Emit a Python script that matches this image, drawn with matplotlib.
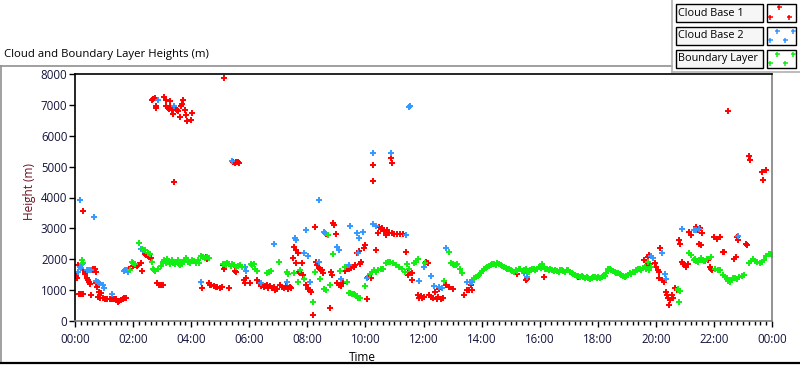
import matplotlib.pyplot as plt
from matplotlib.lines import Line2D
from matplotlib.patches import Rectangle
from matplotlib.ticker import MultipleLocator, FuncFormatter

plt.rcParams['font.family'] = ['Open Sans', 'DejaVu Sans']

# (hour of day, height in m)
cloud_base_1 = [
    (0.0, 1490), (0.03, 1450), (0.06, 1400), (0.09, 1810), (0.13, 860), (0.17, 860), (0.21, 860),
    (0.26, 870), (0.28, 3560), (0.29, 1650), (0.33, 1580), (0.36, 1520), (0.4, 1380), (0.44, 1330),
    (0.47, 1270), (0.51, 1200), (0.55, 840), (0.59, 1650), (0.63, 1700), (0.68, 1680), (0.71, 1600),
    (0.73, 1220), (0.76, 1110), (0.78, 770), (0.82, 950), (0.87, 760), (0.9, 920), (0.96, 730),
    (1.02, 720), (1.1, 710), (1.19, 712), (1.27, 700), (1.35, 700), (1.42, 700), (1.47, 626),
    (1.52, 660), (1.59, 680), (1.65, 720), (1.7, 740), (1.76, 733), (1.85, 1670), (2.0, 1780),
    (2.06, 1800), (2.12, 1780), (2.17, 1810), (2.26, 1870), (2.3, 1630), (2.4, 2170), (2.45, 2130),
    (2.5, 2110), (2.55, 2080), (2.6, 2030), (2.65, 7150), (2.7, 7200), (2.76, 7220), (2.79, 6950),
    (2.8, 6900), (2.82, 1240), (2.88, 1180), (2.95, 1160), (3.03, 1150), (3.08, 7250), (3.12, 7160),
    (3.15, 6950), (3.2, 6890), (3.24, 6860), (3.26, 7130), (3.28, 6950), (3.33, 6820), (3.36, 6710),
    (3.4, 4490), (3.42, 4500), (3.45, 6890), (3.5, 6840), (3.55, 6800), (3.6, 6620), (3.66, 6950),
    (3.7, 7030), (3.72, 7170), (3.8, 6840), (3.83, 6670), (3.87, 6480), (4.0, 6510), (4.02, 6730),
    (4.37, 1060), (4.5, 2060), (4.55, 2020), (4.6, 1220), (4.65, 1180), (4.7, 1150), (4.78, 1130),
    (4.85, 1100), (4.9, 1110), (4.98, 1080), (5.05, 1090), (5.1, 1810), (5.13, 1700), (5.14, 7860),
    (5.3, 1070), (5.45, 5160), (5.5, 5130), (5.52, 1630), (5.55, 5150), (5.56, 1580), (5.6, 5140),
    (5.64, 5130), (5.83, 1320), (5.85, 1220), (5.88, 1400), (6.03, 1220), (6.28, 1330), (6.35, 1240),
    (6.4, 1120), (6.45, 1160), (6.5, 1100), (6.55, 1130), (6.6, 1150), (6.65, 1080), (6.72, 1120),
    (6.78, 1060), (6.85, 1100), (6.9, 1000), (6.95, 1040), (7.05, 1160), (7.12, 1100), (7.2, 1080),
    (7.28, 1120), (7.35, 1050), (7.4, 1100), (7.45, 1060), (7.52, 2030), (7.55, 2400), (7.6, 2300),
    (7.62, 1880), (7.67, 2190), (7.7, 1600), (7.75, 1540), (7.8, 1890), (7.84, 1500), (7.97, 1160),
    (8.02, 1050), (8.08, 1000), (8.13, 950), (8.2, 195), (8.27, 3030), (8.3, 1920), (8.35, 1800),
    (8.4, 1720), (8.45, 1680), (8.5, 1650), (8.55, 1550), (8.6, 2840), (8.65, 2820), (8.77, 410),
    (8.8, 1600), (8.85, 1500), (8.9, 3160), (8.93, 3110), (8.97, 2820), (9.02, 1240), (9.1, 1180),
    (9.17, 1140), (9.22, 1220), (9.3, 1630), (9.38, 1670), (9.45, 1700), (9.52, 1720), (9.6, 1750),
    (9.65, 1800), (9.72, 2190), (9.77, 2280), (9.8, 1850), (9.85, 1900), (9.94, 2350), (10.0, 2460),
    (10.06, 700), (10.1, 1430), (10.18, 1380), (10.26, 5050), (10.27, 4530), (10.35, 2300),
    (10.42, 2850), (10.46, 3050), (10.52, 2980), (10.57, 3000), (10.63, 2900), (10.7, 2780),
    (10.75, 2950), (10.82, 2850), (10.88, 5280), (10.9, 5120), (10.92, 2840), (11.0, 2820),
    (11.1, 2820), (11.2, 2820), (11.3, 2820), (11.4, 2240), (11.45, 1600), (11.48, 1490), (11.6, 1540),
    (11.62, 1330), (11.8, 840), (11.85, 760), (11.9, 800), (11.95, 730), (12.02, 780), (12.07, 1920),
    (12.15, 1870), (12.2, 840), (12.27, 780), (12.33, 750), (12.38, 950), (12.45, 720), (12.5, 790),
    (12.55, 1025), (12.6, 700), (12.67, 740), (12.77, 1165), (12.88, 1100), (13.0, 1025), (13.4, 840),
    (13.5, 1000), (13.57, 1010), (13.63, 1165), (13.66, 1000), (15.22, 1520), (15.53, 1330),
    (15.57, 1360), (16.14, 1420), (17.33, 1420), (19.6, 1970), (19.65, 1900), (19.7, 1810),
    (19.72, 2080), (19.76, 2140), (19.8, 1850), (19.96, 1870), (20.0, 1760), (20.07, 1650),
    (20.1, 1600), (20.12, 1380), (20.16, 2350), (20.2, 1320), (20.28, 1270), (20.35, 950), (20.4, 840),
    (20.43, 760), (20.47, 520), (20.5, 680), (20.55, 840), (20.6, 760), (20.65, 1060), (20.72, 1000),
    (20.8, 2620), (20.84, 2510), (20.9, 1920), (20.95, 1850), (21.0, 1800), (21.05, 1760),
    (21.1, 1850), (21.15, 2890), (21.2, 2780), (21.35, 1970), (21.4, 3050), (21.45, 2960),
    (21.5, 2510), (21.52, 3000), (21.55, 2460), (21.6, 2840), (21.8, 1970), (21.85, 1750),
    (21.9, 1680), (21.95, 1650), (22.0, 2710), (22.1, 2640), (22.2, 2710), (22.3, 2240), (22.35, 2220),
    (22.47, 6790), (22.7, 2000), (22.75, 2060), (22.8, 2730), (22.83, 2620), (23.1, 2490),
    (23.13, 2470), (23.22, 5330), (23.25, 5200), (23.66, 4840), (23.7, 4580), (23.78, 4900),
]

cloud_base_2 = [
    (0.12, 1600), (0.17, 3920), (0.18, 1760), (0.21, 1730), (0.23, 1845), (0.4, 1650), (0.47, 1650),
    (0.55, 1650), (0.67, 3360), (0.73, 1290), (0.79, 1270), (0.84, 1220), (0.96, 1165), (1.01, 1080),
    (1.29, 860), (1.68, 1620), (1.73, 1640), (1.78, 1650), (1.83, 1600), (2.28, 2330), (2.33, 2300),
    (2.87, 7160), (3.4, 6960), (4.35, 1250), (5.39, 5180), (5.85, 1760), (5.9, 1620), (6.42, 1240),
    (6.85, 2480), (7.29, 1270), (7.57, 2680), (7.6, 2630), (7.89, 2190), (7.97, 2950), (8.03, 2100),
    (8.08, 1270), (8.39, 3920), (8.4, 1920), (8.56, 2870), (8.6, 2840), (9.02, 2400), (9.08, 2300),
    (9.15, 1350), (9.42, 1810), (9.46, 3070), (9.71, 2840), (9.74, 2190), (9.77, 2700), (9.9, 2890),
    (10.06, 1400), (10.26, 5450), (10.27, 3150), (10.38, 3070), (10.88, 5450), (11.4, 2780),
    (11.5, 6920), (11.53, 6970), (11.85, 1300), (12.03, 1760), (12.26, 1460), (12.35, 1140),
    (12.55, 1090), (12.64, 1060), (12.77, 2380), (13.5, 1270), (13.6, 1270), (13.68, 1270),
    (15.45, 1540), (15.56, 1420), (19.85, 2110), (19.9, 2030), (20.2, 2190), (20.33, 1510),
    (20.36, 1360), (20.9, 2970), (21.3, 2960), (21.4, 2950), (21.5, 2970), (21.7, 1950), (22.83, 2760),
]

boundary_layer = [
    (0.25, 1975), (0.28, 1880), (1.88, 1640), (1.95, 1900), (2.0, 1880), (2.05, 1850), (2.22, 2515),
    (2.3, 2320), (2.37, 2300), (2.42, 2290), (2.5, 2200), (2.58, 2170), (2.66, 1920), (2.7, 1690),
    (2.73, 1650), (2.76, 1630), (2.85, 1700), (2.96, 1790), (3.02, 1900), (3.07, 1960), (3.12, 1880),
    (3.18, 2010), (3.22, 1930), (3.28, 1850), (3.33, 1960), (3.38, 1880), (3.43, 1830), (3.48, 1900),
    (3.53, 1960), (3.58, 1860), (3.63, 1800), (3.68, 1830), (3.72, 1900), (3.77, 1960), (3.82, 2030),
    (3.9, 1920), (3.96, 1870), (4.02, 1980), (4.1, 1930), (4.15, 1870), (4.22, 1980), (4.28, 1890),
    (4.34, 2090), (4.4, 2080), (4.48, 2050), (4.56, 2060), (4.6, 2040), (5.08, 1845), (5.15, 1860),
    (5.2, 1800), (5.25, 1880), (5.3, 1830), (5.37, 1790), (5.42, 1850), (5.48, 1800), (5.55, 1760),
    (5.62, 1780), (5.68, 1810), (5.75, 1760), (6.05, 1850), (6.1, 1800), (6.15, 1830), (6.2, 1670),
    (6.25, 1620), (6.62, 1570), (6.68, 1600), (6.75, 1620), (7.04, 1920), (7.3, 1580), (7.35, 1530),
    (7.55, 1560), (7.67, 1270), (7.75, 1650), (7.9, 1350), (8.2, 625), (8.26, 1600), (8.45, 1360),
    (8.58, 1050), (8.63, 1020), (8.7, 2780), (8.78, 1160), (8.87, 2160), (9.14, 1620), (9.3, 1760),
    (9.37, 1250), (9.42, 920), (9.48, 900), (9.55, 880), (9.6, 870), (9.65, 830), (9.7, 800),
    (9.75, 740), (9.8, 760), (10.0, 1130), (10.15, 1520), (10.23, 1600), (10.3, 1640), (10.38, 1600),
    (10.45, 1650), (10.55, 1680), (10.6, 1700), (10.7, 1870), (10.78, 1920), (10.85, 1900),
    (10.95, 1870), (11.05, 1820), (11.15, 1760), (11.25, 1700), (11.35, 1600), (11.42, 1840),
    (11.5, 1700), (11.68, 1880), (11.75, 1920), (11.8, 2000), (12.05, 1890), (12.72, 1300),
    (12.87, 2220), (12.95, 1870), (13.0, 1840), (13.06, 1810), (13.12, 1800), (13.17, 1830),
    (13.25, 1700), (13.34, 1540),
    (13.74, 1380), (13.8, 1430), (13.86, 1460), (13.92, 1500), (13.97, 1540), (14.03, 1620),
    (14.08, 1700), (14.14, 1730), (14.2, 1760), (14.25, 1790), (14.31, 1810), (14.37, 1830),
    (14.43, 1845), (14.48, 1800), (14.54, 1870), (14.6, 1840), (14.66, 1810), (14.71, 1780),
    (14.77, 1760), (14.83, 1720), (14.88, 1700), (14.94, 1680), (15.0, 1650), (15.05, 1620),
    (15.11, 1600), (15.17, 1640), (15.22, 1630), (15.28, 1690), (15.34, 1670), (15.4, 1620),
    (15.45, 1650), (15.52, 1680), (15.58, 1630), (15.62, 1600), (15.68, 1660), (15.74, 1700),
    (15.8, 1680), (15.85, 1650), (15.91, 1700), (15.97, 1760), (16.03, 1720), (16.08, 1845),
    (16.14, 1760), (16.19, 1700), (16.25, 1680), (16.31, 1650), (16.37, 1700), (16.43, 1660),
    (16.48, 1630), (16.54, 1650), (16.6, 1620), (16.65, 1600), (16.71, 1640), (16.77, 1660),
    (16.82, 1630), (16.88, 1600), (16.94, 1640), (16.99, 1650), (17.05, 1600), (17.1, 1565),
    (17.16, 1520), (17.22, 1490), (17.28, 1460), (17.33, 1450), (17.39, 1435), (17.45, 1450),
    (17.5, 1410), (17.56, 1380), (17.62, 1420), (17.68, 1390), (17.73, 1350), (17.79, 1400),
    (17.85, 1440), (17.9, 1410), (17.96, 1380), (18.02, 1420), (18.07, 1380), (18.13, 1440),
    (18.19, 1470), (18.25, 1460), (18.3, 1560), (18.36, 1700), (18.42, 1680), (18.47, 1650),
    (18.53, 1620), (18.59, 1600), (18.64, 1570), (18.7, 1540), (18.76, 1510), (18.81, 1490),
    (18.87, 1460), (18.93, 1435), (18.98, 1470), (19.04, 1490), (19.1, 1550), (19.16, 1520),
    (19.22, 1580), (19.27, 1600), (19.33, 1660), (19.38, 1700), (19.44, 1680), (19.5, 1650),
    (19.55, 1720), (19.61, 1760), (19.67, 1700), (19.73, 1920), (19.78, 1650), (19.84, 1760),
    (20.75, 1040), (20.78, 1000), (20.8, 625), (20.82, 960), (21.15, 2190), (21.2, 2140),
    (21.3, 1970), (21.35, 2000), (21.4, 1940), (21.45, 1920), (21.5, 1960), (21.55, 2030),
    (21.6, 1980), (21.65, 1940), (21.75, 2000), (21.9, 2080), (22.05, 1700), (22.15, 1650),
    (22.2, 1660), (22.3, 1490), (22.38, 1440), (22.45, 1380), (22.5, 1300), (22.55, 1270),
    (22.6, 1330), (22.65, 1380), (22.72, 1400), (22.8, 1360), (22.88, 1420), (22.95, 1460),
    (23.05, 1490), (23.2, 1870), (23.28, 1950), (23.35, 2000), (23.42, 1930), (23.5, 1900),
    (23.58, 1880), (23.65, 1920), (23.72, 1990), (23.8, 2100), (23.88, 2170), (23.95, 2170),
    (24.0, 2140),
]

series_names = ['Cloud Base 1', 'Cloud Base 2', 'Boundary Layer']
series_colors = ['#ff0000', '#3399ff', '#11ee11']

W, H = 800, 365


def px(x, y):
    return x / W, 1 - y / H


fig = plt.figure(figsize=(W / 100, H / 100), dpi=100)
ax = fig.add_axes([75 / W, 1 - 321 / H, 697 / W, 247 / H])

for data, color in zip([cloud_base_1, cloud_base_2, boundary_layer], series_colors):
    t, h = zip(*data)
    ax.plot(t, h, linestyle='none', marker='+', markersize=3.8, markeredgewidth=1.4, color=color)

ax.set_xlim(0, 24)
ax.set_ylim(0, 8000)
ax.xaxis.set_major_locator(MultipleLocator(2))
ax.xaxis.set_minor_locator(MultipleLocator(0.2))
ax.xaxis.set_major_formatter(FuncFormatter(lambda v, p: '%02d:00' % (int(round(v)) % 24)))
ax.yaxis.set_major_locator(MultipleLocator(1000))

tick_col = '#14143c'
ax.tick_params(axis='x', which='major', length=4.5, width=1, pad=4, labelsize=8.3, labelcolor=tick_col)
ax.tick_params(axis='x', which='minor', length=3, width=1)
ax.tick_params(axis='y', which='major', length=4, width=1, pad=1.5, labelsize=8.3, labelcolor=tick_col)

for side in ['top', 'left']:
    ax.spines[side].set_color('black')
    ax.spines[side].set_linewidth(1.2)
for side in ['right', 'bottom']:
    ax.spines[side].set_color('#808080')
    ax.spines[side].set_linewidth(1.2)

ax.set_xlabel('Time', fontsize=8.5, color='black')
ax.xaxis.set_label_coords(0.413, -0.12)
ax.set_ylabel('Height (m)', fontsize=8.5, color='#6e0f1e')
ax.yaxis.set_label_coords(-0.056, 0.526)

fig.text(*px(4, 55), 'Cloud and Boundary Layer Heights (m)', fontsize=8.2, va='center', ha='left')

# chart frame
fig.add_artist(Line2D([0, 672 / W], [1 - 66 / H] * 2, color='#909090', lw=1.2))
fig.add_artist(Line2D([1 / W] * 2, [1 - 66 / H, 1 - 363 / H], color='#909090', lw=1.2))
fig.add_artist(Line2D([0, 1], [1 - 363 / H] * 2, color='black', lw=1.6))
fig.add_artist(Line2D([672 / W] * 2, [1, 1 - 72 / H], color='#b0b0b0', lw=1.2))
fig.add_artist(Line2D([672 / W, 1], [1 - 72 / H] * 2, color='#b0b0b0', lw=1.2))

# legend boxes
row_tops = [4, 27, 50]
for top, name, color in zip(row_tops, series_names, series_colors):
    x0, y0 = px(676, top + 18)
    fig.add_artist(Rectangle((x0, y0), 87 / W, 18 / H, transform=fig.transFigure,
                             facecolor='#f6f6f6', edgecolor='black', lw=1))
    fig.text(*px(678, top + 9), name, fontsize=7.8, va='center', ha='left')
    x1, y1 = px(767, top + 18)
    fig.add_artist(Rectangle((x1, y1), 29 / W, 18 / H, transform=fig.transFigure,
                             facecolor='white', edgecolor='black', lw=1))
    mx = [779, 770, 789] if color == '#ff0000' else [777, 793, 770, 785]
    my = [top + 3, top + 13, top + 13] if color == '#ff0000' else [top + 4, top + 4, top + 13, top + 13]
    for a, b in zip(mx, my):
        fig.add_artist(Line2D([a / W], [1 - b / H], linestyle='none', marker='+',
                              markersize=3.6, markeredgewidth=1.1, color=color))

fig.savefig('out.png', dpi=100)
